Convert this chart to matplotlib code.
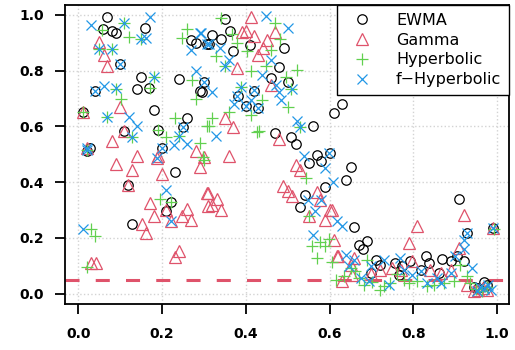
import numpy as np
from matplotlib import pyplot as plt

plt.rcParams['font.family'] = ['DejaVu Sans']

# values
ewma_x = [0.069, 0.058, 0.080, 0.089, 0.160, 0.270, 0.280, 0.307, 0.099, 0.150,
          0.240, 0.039, 0.141, 0.168, 0.300, 0.290, 0.180, 0.260, 0.250, 0.190,
          0.108, 0.027, 0.021, 0.200, 0.010, 0.349, 0.320, 0.340, 0.361, 0.311,
          0.409, 0.370, 0.490, 0.478, 0.459, 0.500, 0.296, 0.380, 0.419, 0.400,
          0.428, 0.560, 0.469, 0.507, 0.520, 0.570, 0.600, 0.610, 0.630, 0.650,
          0.640, 0.657, 0.669, 0.688, 0.679, 0.710, 0.698, 0.720, 0.757, 0.773,
          0.793, 0.765, 0.829, 0.838, 0.817, 0.869, 0.889, 0.920, 0.905, 0.860,
          0.908, 0.928, 0.968, 0.944, 0.990, 0.230, 0.118, 0.129, 0.220, 0.210,
          0.550, 0.580, 0.590, 0.540, 0.528, 0.955, 0.975]
ewma_y = [0.994, 0.950, 0.943, 0.935, 0.953, 0.910, 0.900, 0.895, 0.824, 0.777,
          0.770, 0.728, 0.734, 0.738, 0.760, 0.728, 0.660, 0.630, 0.596, 0.588,
          0.584, 0.523, 0.510, 0.523, 0.652, 0.986, 0.928, 0.914, 0.943, 0.895,
          0.892, 0.872, 0.882, 0.814, 0.775, 0.760, 0.725, 0.710, 0.728, 0.674,
          0.667, 0.603, 0.577, 0.563, 0.538, 0.498, 0.505, 0.648, 0.680, 0.456,
          0.406, 0.240, 0.176, 0.187, 0.161, 0.122, 0.075, 0.104, 0.111, 0.098,
          0.116, 0.068, 0.134, 0.110, 0.086, 0.125, 0.116, 0.116, 0.134, 0.075,
          0.340, 0.218, 0.040, 0.025, 0.234, 0.438, 0.390, 0.250, 0.327, 0.298,
          0.468, 0.474, 0.381, 0.355, 0.309, 0.020, 0.030]

gamma_x = [0.049, 0.060, 0.069, 0.099, 0.010, 0.108, 0.081, 0.020, 0.141, 0.190,
           0.280, 0.300, 0.411, 0.391, 0.400, 0.419, 0.469, 0.450, 0.440, 0.428,
           0.379, 0.459, 0.349, 0.370, 0.479, 0.360, 0.090, 0.129, 0.188, 0.200,
           0.290, 0.118, 0.307, 0.310, 0.171, 0.180, 0.210, 0.220, 0.260, 0.248,
           0.270, 0.151, 0.161, 0.240, 0.230, 0.029, 0.041, 0.309, 0.330, 0.320,
           0.340, 0.519, 0.530, 0.489, 0.500, 0.511, 0.570, 0.578, 0.550, 0.600,
           0.590, 0.610, 0.618, 0.606, 0.620, 0.659, 0.650, 0.654, 0.630, 0.809,
           0.789, 0.920, 0.910, 0.720, 0.749, 0.797, 0.840, 0.865, 0.890, 0.928,
           0.944, 0.976, 0.990, 0.698, 0.770, 0.955, 0.965]
gamma_y = [0.903, 0.857, 0.818, 0.671, 0.653, 0.584, 0.546, 0.523, 0.492, 0.492,
           0.510, 0.490, 0.993, 0.937, 0.944, 0.925, 0.940, 0.910, 0.883, 0.857,
           0.809, 0.749, 0.630, 0.596, 0.554, 0.492, 0.466, 0.442, 0.486, 0.430,
           0.456, 0.390, 0.361, 0.313, 0.325, 0.280, 0.301, 0.259, 0.303, 0.277,
           0.265, 0.251, 0.217, 0.152, 0.132, 0.110, 0.108, 0.361, 0.339, 0.319,
           0.299, 0.462, 0.442, 0.387, 0.367, 0.349, 0.363, 0.337, 0.280, 0.301,
           0.265, 0.191, 0.136, 0.301, 0.134, 0.128, 0.104, 0.068, 0.044, 0.241,
           0.182, 0.283, 0.164, 0.086, 0.092, 0.116, 0.086, 0.074, 0.086, 0.032,
           0.008, 0.014, 0.235, 0.072, 0.085, 0.012, 0.020]

hyper_x = [0.109, 0.057, 0.121, 0.149, 0.049, 0.081, 0.260, 0.248, 0.180, 0.272,
           0.171, 0.101, 0.091, 0.280, 0.010, 0.069, 0.230, 0.307, 0.190, 0.129,
           0.210, 0.240, 0.290, 0.020, 0.298, 0.341, 0.469, 0.367, 0.379, 0.481,
           0.459, 0.402, 0.328, 0.349, 0.447, 0.411, 0.522, 0.495, 0.389, 0.508,
           0.439, 0.500, 0.413, 0.320, 0.360, 0.312, 0.427, 0.529, 0.431, 0.300,
           0.196, 0.220, 0.031, 0.039, 0.020, 0.543, 0.550, 0.558, 0.578, 0.590,
           0.598, 0.570, 0.606, 0.614, 0.650, 0.634, 0.670, 0.682, 0.720, 0.729,
           0.745, 0.777, 0.789, 0.809, 0.833, 0.849, 0.873, 0.896, 0.912, 0.928,
           0.936, 0.964, 0.992, 0.660, 0.690, 0.760, 0.700, 0.950, 0.975]
hyper_y = [0.972, 0.946, 0.922, 0.913, 0.877, 0.877, 0.949, 0.916, 0.777, 0.767,
           0.737, 0.698, 0.734, 0.698, 0.650, 0.633, 0.630, 0.600, 0.588, 0.562,
           0.562, 0.566, 0.540, 0.516, 0.490, 0.988, 0.970, 0.930, 0.900, 0.913,
           0.875, 0.869, 0.853, 0.815, 0.817, 0.797, 0.803, 0.779, 0.741, 0.734,
           0.695, 0.671, 0.642, 0.630, 0.651, 0.600, 0.580, 0.597, 0.582, 0.480,
           0.339, 0.327, 0.232, 0.208, 0.096, 0.415, 0.277, 0.170, 0.184, 0.170,
           0.196, 0.128, 0.112, 0.050, 0.092, 0.062, 0.056, 0.032, 0.014, 0.026,
           0.038, 0.050, 0.038, 0.044, 0.026, 0.032, 0.038, 0.044, 0.104, 0.062,
           0.038, 0.008, 0.232, 0.080, 0.120, 0.070, 0.040, 0.015, 0.025]

fhyp_x = [0.171, 0.029, 0.109, 0.149, 0.161, 0.049, 0.081, 0.270, 0.290, 0.307,
          0.099, 0.280, 0.180, 0.061, 0.040, 0.091, 0.300, 0.069, 0.121, 0.141,
          0.129, 0.250, 0.240, 0.228, 0.260, 0.020, 0.200, 0.449, 0.500, 0.292,
          0.312, 0.338, 0.360, 0.459, 0.349, 0.439, 0.320, 0.389, 0.419, 0.471,
          0.511, 0.479, 0.379, 0.411, 0.483, 0.371, 0.400, 0.429, 0.521, 0.529,
          0.328, 0.538, 0.598, 0.010, 0.210, 0.220, 0.188, 0.021, 0.590, 0.608,
          0.548, 0.580, 0.566, 0.618, 0.560, 0.630, 0.638, 0.658, 0.646, 0.674,
          0.694, 0.729, 0.741, 0.769, 0.777, 0.797, 0.817, 0.833, 0.865, 0.857,
          0.889, 0.900, 0.920, 0.920, 0.928, 0.940, 0.952, 0.969, 0.985, 0.990,
          0.698, 0.960, 0.978]
fhyp_y = [0.992, 0.964, 0.972, 0.913, 0.916, 0.877, 0.877, 0.875, 0.934, 0.895,
          0.823, 0.800, 0.777, 0.745, 0.728, 0.737, 0.761, 0.633, 0.633, 0.602,
          0.562, 0.596, 0.566, 0.534, 0.538, 0.522, 0.522, 0.996, 0.952, 0.934,
          0.895, 0.880, 0.839, 0.839, 0.815, 0.785, 0.725, 0.741, 0.729, 0.749,
          0.734, 0.722, 0.710, 0.695, 0.695, 0.681, 0.674, 0.666, 0.618, 0.597,
          0.566, 0.495, 0.506, 0.233, 0.373, 0.259, 0.486, 0.516, 0.450, 0.402,
          0.337, 0.337, 0.295, 0.259, 0.211, 0.244, 0.140, 0.122, 0.098, 0.056,
          0.044, 0.122, 0.032, 0.128, 0.086, 0.068, 0.080, 0.038, 0.038, 0.056,
          0.074, 0.136, 0.160, 0.194, 0.218, 0.092, 0.008, 0.020, 0.014, 0.234,
          0.098, 0.025, 0.030]

threshold = 0.05
ticks = [0.0, 0.2, 0.4, 0.6, 0.8, 1.0]

fig = plt.figure(figsize=(5.15, 3.5), dpi=100)
ax = fig.add_axes([0.127, 0.131, 0.862, 0.855])

for t in ticks:
    ax.axhline(t, color='#d3d3d3', linestyle=':', lw=1, zorder=0)
    ax.axvline(t, color='#d3d3d3', linestyle=':', lw=1, zorder=0)

ax.axhline(threshold, color='#DF536B', lw=2.2, dashes=(4.6, 5.3), zorder=1)

ax.plot(ewma_x, ewma_y, 'o', ms=6.8, mfc='none', mec='black', mew=0.9,
        label='EWMA', zorder=2)
ax.plot(gamma_x, gamma_y, '^', ms=8, mfc='none', mec='#DF536B', mew=0.9,
        label='Gamma', zorder=2)
ax.plot(hyper_x, hyper_y, '+', ms=8, mec='#61D04F', mew=0.9,
        label='Hyperbolic', zorder=2)
ax.plot(fhyp_x, fhyp_y, 'x', ms=6.8, mec='#2297E6', mew=0.9,
        label='f\u2212Hyperbolic', zorder=2)

ax.set_xlim(-0.031, 1.029)
ax.set_ylim(-0.038, 1.036)
ax.set_xticks(ticks)
ax.set_yticks(ticks)
ax.set_xticklabels(['%.1f' % t for t in ticks], fontweight='bold', fontsize=10)
ax.set_yticklabels(['%.1f' % t for t in ticks], fontweight='bold', fontsize=10)
ax.tick_params(axis='both', length=7.5, width=1.3, color='black')
ax.tick_params(axis='x', pad=9)
ax.tick_params(axis='y', pad=8)
for s in ax.spines.values():
    s.set_linewidth(1.3)

leg = ax.legend(loc='upper right', bbox_to_anchor=(1.0, 1.0), borderaxespad=0,
                prop={'size': 11.5}, frameon=True, fancybox=False,
                edgecolor='black', framealpha=1, borderpad=0.5,
                handlelength=2.1, handletextpad=1.1, labelspacing=0.3)
leg.get_frame().set_linewidth(1.0)

fig.savefig('out.png', dpi=100)
